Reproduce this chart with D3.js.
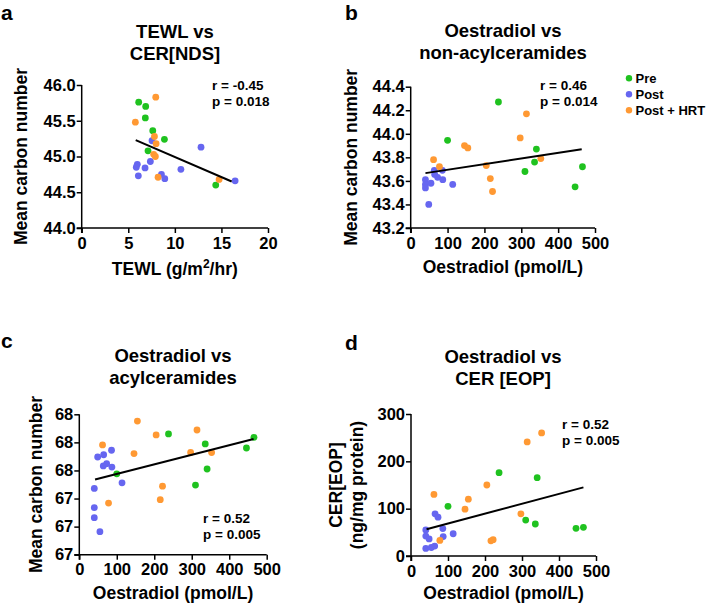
<!DOCTYPE html>
<html>
<head>
<meta charset="utf-8">
<script src="https://cdn.jsdelivr.net/npm/d3@7/dist/d3.min.js"></script>
<style>
  html, body { margin: 0; padding: 0; background: #ffffff; }
  svg { display: block; font-family: "Liberation Sans", Arial, sans-serif; font-weight: bold; }
</style>
</head>
<body>
<svg id="chart" width="709" height="606"></svg>
<script>
// ---------------- DATA ----------------
const groups = ["Pre", "Post", "Post + HRT"];
const groupColors = ["#1fc21f", "#6666f0", "#ff9933"];

// Panel a: TEWL vs CER[NDS]
const tewlPre  = [6.12, 6.87, 6.83, 7.63, 8.88, 7.12, 14.39];
const ndsPre   = [45.76, 45.70, 45.54, 45.36, 45.24, 45.08, 44.60];
const tewlPost = [7.55, 5.97, 5.86, 6.80, 7.37, 6.08, 8.56, 8.92, 10.65, 12.81, 16.47];
const ndsPost  = [45.22, 44.89, 44.85, 44.84, 44.93, 44.73, 44.75, 44.69, 44.82, 45.13, 44.66];
const tewlHrt  = [7.95, 5.76, 7.81, 7.99, 7.73, 7.91, 8.20, 14.75];
const ndsHrt   = [45.83, 45.48, 45.28, 45.18, 45.03, 45.00, 44.71, 44.68];
const fitA_x = [5.8, 16.1];
const fitA_y = [45.23, 44.65];
const statsA = ["r = -0.45", "p = 0.018"];

// Oestradiol (pmol/L), shared by panels b, c, d
const oesPre  = [100, 238, 310, 336, 341, 446, 466];
const oesPost = [40, 40, 40, 49, 55, 64, 65, 73, 86, 87, 114];
const oesHrt  = [62, 78, 146, 155, 205, 216, 222, 297, 314, 353];

// Panel b: non-acylceramides mean carbon number
const nonAcylPre  = [43.945, 44.27, 43.68, 43.76, 43.87, 43.55, 43.72];
const nonAcylPost = [43.61, 43.57, 43.54, 43.40, 43.58, 43.69, 43.655, 43.63, 43.69, 43.61, 43.57];
const nonAcylHrt  = [43.78, 43.72, 43.90, 43.88, 43.73, 43.62, 43.51, 43.965, 44.17, 43.79];
const fitB_x = [40, 464];
const fitB_y = [43.666, 43.868];
const statsB = ["r = 0.46", "p = 0.014"];

// Panel c: acylceramides mean carbon number
const acylPre  = [67.47, 67.825, 67.37, 67.736, 67.513, 67.70, 67.795];
const acylPost = [67.34, 67.17, 67.08, 67.62, 66.955, 67.54, 67.64, 67.56, 67.68, 67.53, 67.39];
const acylHrt  = [67.727, 67.21, 67.65, 67.94, 67.816, 67.24, 67.36, 67.66, 67.86, 67.66];
const fitC_x = [42, 465];
const fitC_y = [67.42, 67.78];
const statsC = ["r = 0.52", "p = 0.005"];
const acylTicks = [66.75, 67.0, 67.25, 67.5, 67.75, 68.0];
const acylTickLabels = ["67", "67", "67", "68", "68", "68"];

// Panel d: CER[EOP] (ng/mg protein)
const eopPre  = [105, 176, 76, 67.6, 165.5, 58.5, 60.6];
const eopPost = [55, 42, 16, 36, 18, 21, 89, 82, 58, 41, 47];
const eopHrt  = [130, 33, 99, 120, 150, 32, 34.5, 89, 241, 260];
const fitD_x = [42, 466];
const fitD_y = [56.6, 145];
const statsD = ["r = 0.52", "p = 0.005"];

const svg = d3.select("#chart");

function panel(cfg) {
  const g = svg.append("g");
  const x = d3.scaleLinear().domain(cfg.xDomain).range([cfg.left, cfg.right]);
  const y = d3.scaleLinear().domain(cfg.yDomain).range([cfg.bottom, cfg.top]);

  const xAxis = d3.axisBottom(x).tickValues(cfg.xTicks).tickSize(5).tickSizeOuter(0).tickPadding(4)
    .tickFormat(cfg.xFormat);
  const yAxis = d3.axisLeft(y).tickValues(cfg.yTicks).tickSize(5).tickSizeOuter(0).tickPadding(1)
    .tickFormat(cfg.yFormat);
  const gx = g.append("g").attr("transform", `translate(0,${cfg.bottom})`).call(xAxis);
  const gy = g.append("g").attr("transform", `translate(${cfg.left},0)`).call(yAxis);
  [gx, gy].forEach(a => {
    a.selectAll("path,line").attr("stroke", "#000").attr("stroke-width", 1.5);
    a.selectAll("text").attr("fill", "#000").style("font-size", "16.5px")
      .style("font-family", '"Liberation Sans", Arial, sans-serif').style("font-weight", "bold");
  });
  gx.select("path.domain").attr("d", `M${cfg.left - 5},0H${cfg.right}`);
  gy.select("path.domain").attr("d", `M0,${cfg.top}V${cfg.bottom + 5}`);

  cfg.series.forEach((s, i) => {
    g.append("g").selectAll("circle").data(d3.zip(s[0], s[1])).join("circle")
      .attr("cx", d => x(d[0])).attr("cy", d => y(d[1])).attr("r", 3.4)
      .attr("fill", groupColors[i]);
  });

  g.append("path").datum(d3.zip(cfg.fit[0], cfg.fit[1]))
    .attr("d", d3.line().x(d => x(d[0])).y(d => y(d[1])))
    .attr("stroke", "#000").attr("stroke-width", 2).attr("fill", "none");

  cfg.stats.forEach((t, i) => {
    g.append("text").attr("x", cfg.statsPos[0]).attr("y", cfg.statsPos[1] + i * 15.5)
      .style("font-size", "13.5px").text(t);
  });

  cfg.title.forEach((t, i) => {
    g.append("text").attr("x", cfg.titleX).attr("y", cfg.titleY + i * 22)
      .attr("text-anchor", "middle").style("font-size", "18.5px").text(t);
  });

  g.append("text").attr("x", cfg.letterPos[0]).attr("y", cfg.letterPos[1])
    .style("font-size", "21px").text(cfg.letter);

  const xt = g.append("text").attr("x", (cfg.left + cfg.right) / 2).attr("y", cfg.xTitleY)
    .attr("text-anchor", "middle").style("font-size", "17.5px");
  cfg.xTitle(xt);

  const cy = (cfg.top + cfg.bottom) / 2;
  cfg.yTitle.forEach((t, i) => {
    g.append("text").attr("transform", `translate(${cfg.yTitleX[i]},${cy}) rotate(-90)`)
      .attr("text-anchor", "middle").style("font-size", "17.5px").text(t);
  });
}

const fmt1 = d3.format(".1f");
const fmt0 = d3.format("d");
const oesTitle = t => t.text("Oestradiol (pmol/L)");

panel({
  letter: "a", letterPos: [1, 19.5],
  left: 81.7, right: 268, top: 85, bottom: 228,
  xDomain: [0, 20], yDomain: [44, 46],
  xTicks: [0, 5, 10, 15, 20], yTicks: [44, 44.5, 45, 45.5, 46],
  xFormat: fmt0, yFormat: fmt1,
  series: [[tewlPre, ndsPre], [tewlPost, ndsPost], [tewlHrt, ndsHrt]],
  fit: [fitA_x, fitA_y], stats: statsA, statsPos: [212, 90],
  title: ["TEWL vs", "CER[NDS]"], titleX: 175, titleY: 38,
  xTitleY: 275,
  xTitle: t => {
    t.append("tspan").text("TEWL (g/m");
    t.append("tspan").attr("dy", -7).style("font-size", "12px").text("2");
    t.append("tspan").attr("dy", 7).text("/hr)");
  },
  yTitle: ["Mean carbon number"], yTitleX: [26.5]
});

panel({
  letter: "b", letterPos: [345, 19.5],
  left: 410.7, right: 595, top: 86.7, bottom: 228,
  xDomain: [0, 500], yDomain: [43.2, 44.4],
  xTicks: [0, 100, 200, 300, 400, 500], yTicks: [43.2, 43.4, 43.6, 43.8, 44.0, 44.2, 44.4],
  xFormat: fmt0, yFormat: fmt1,
  series: [[oesPre, nonAcylPre], [oesPost, nonAcylPost], [oesHrt, nonAcylHrt]],
  fit: [fitB_x, fitB_y], stats: statsB, statsPos: [540, 90],
  title: ["Oestradiol vs", "non-acylceramides"], titleX: 503, titleY: 37,
  xTitleY: 273, xTitle: oesTitle,
  yTitle: ["Mean carbon number"], yTitleX: [357]
});

panel({
  letter: "c", letterPos: [1, 348],
  left: 79.3, right: 266.7, top: 414.3, bottom: 554.7,
  xDomain: [0, 500], yDomain: [66.75, 68],
  xTicks: [0, 100, 200, 300, 400, 500], yTicks: acylTicks,
  xFormat: fmt0, yFormat: (d, i) => acylTickLabels[i],
  series: [[oesPre, acylPre], [oesPost, acylPost], [oesHrt, acylHrt]],
  fit: [fitC_x, fitC_y], stats: statsC, statsPos: [203, 523],
  title: ["Oestradiol vs", "acylceramides"], titleX: 173, titleY: 362,
  xTitleY: 599, xTitle: oesTitle,
  yTitle: ["Mean carbon number"], yTitleX: [41.5]
});

panel({
  letter: "d", letterPos: [345, 350],
  left: 411, right: 596, top: 414, bottom: 556,
  xDomain: [0, 500], yDomain: [0, 300],
  xTicks: [0, 100, 200, 300, 400, 500], yTicks: [0, 100, 200, 300],
  xFormat: fmt0, yFormat: fmt0,
  series: [[oesPre, eopPre], [oesPost, eopPost], [oesHrt, eopHrt]],
  fit: [fitD_x, fitD_y], stats: statsD, statsPos: [562, 429],
  title: ["Oestradiol vs", "CER [EOP]"], titleX: 503, titleY: 363,
  xTitleY: 599, xTitle: oesTitle,
  yTitle: ["CER[EOP]", "(ng/mg protein)"], yTitleX: [342, 363]
});

const legend = svg.append("g");
groups.forEach((name, i) => {
  legend.append("circle").attr("cx", 629).attr("cy", 78.3 + i * 16).attr("r", 3.2).attr("fill", groupColors[i]);
  legend.append("text").attr("x", 635.5).attr("y", 82.5 + i * 16).style("font-size", "13px").text(name);
});
</script>
</body>
</html>
